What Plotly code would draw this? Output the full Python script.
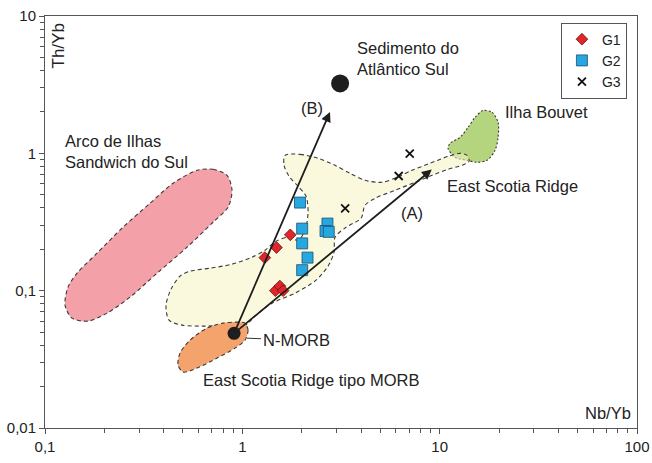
import numpy as np
import plotly.graph_objects as go

# ---- sample data (Nb/Yb, Th/Yb) ----
g1_nb = [1.75, 1.49, 1.30, 1.47, 1.55, 1.61]
g1_th = [0.255, 0.206, 0.174, 0.100, 0.108, 0.100]
g2_nb = [1.96, 2.01, 2.01, 2.14, 2.01, 2.70, 2.64, 2.74]
g2_th = [0.438, 0.283, 0.221, 0.174, 0.141, 0.308, 0.272, 0.268]
g3_nb = [3.32, 6.20, 7.05]
g3_th = [0.398, 0.684, 0.995]

# reference compositions
nmorb = (0.908, 0.0489)
sediment = (3.13, 3.23)
arrow_b_end = (2.78, 2.00)
arrow_a_end = (9.12, 0.761)

# ---- field outlines, log10(Nb/Yb), log10(Th/Yb) ----
sandwich_lx = [-0.2296, -0.1485, -0.0775, -0.0522, -0.0725, -0.1485, -0.2803, -0.4323, -0.5692,
               -0.6858, -0.7821, -0.8632, -0.8986, -0.8834, -0.8378, -0.7364, -0.6047, -0.4678, -0.3512]
sandwich_ly = [-0.1236, -0.1164, -0.16, -0.2691, -0.3927, -0.5018, -0.6836, -0.8727, -1.0473,
               -1.1636, -1.2218, -1.2, -1.1055, -0.9745, -0.8727, -0.7273, -0.5382, -0.3636, -0.2182]

esr_lx = [0.2164, 0.2924, 0.3837, 0.4698, 0.5459, 0.6219, 0.7081, 0.7841, 0.8601, 0.9513, 1.0426,
          1.1034, 1.1389, 1.149, 1.1135, 1.0426, 0.9615, 0.8753, 0.7739, 0.6726, 0.6219, 0.6016,
          0.5256, 0.4698, 0.4648, 0.4344, 0.3735, 0.2671, 0.1505, 0.0694, 0.0086, -0.0725, -0.1891,
          -0.3056, -0.3715, -0.3867, -0.3614, -0.3158, -0.2651, -0.1637, -0.0522, 0.0492, 0.115,
          0.1708, 0.2316, 0.2823, 0.3178, 0.333, 0.3229, 0.2823, 0.2367, 0.2113]
esr_ly = [-0.0145, -0.0073, -0.0364, -0.0873, -0.1455, -0.1964, -0.2109, -0.1745, -0.1236, -0.0727,
          -0.0218, 0.0, -0.0145, -0.0582, -0.0873, -0.1164, -0.16, -0.2109, -0.2691, -0.3273, -0.3782,
          -0.4727, -0.5382, -0.6109, -0.72, -0.8218, -0.9236, -1.0182, -1.0909, -1.1782, -1.2582,
          -1.2509, -1.2582, -1.2509, -1.2145, -1.1055, -0.9891, -0.8945, -0.8582, -0.8364, -0.8073,
          -0.7564, -0.7055, -0.64, -0.6109, -0.6327, -0.56, -0.4291, -0.3127, -0.24, -0.1673, -0.0873]

bouvet_lx = [1.22, 1.2656, 1.296, 1.296, 1.2808, 1.2402, 1.1895, 1.1389, 1.078, 1.0426, 1.0527,
             1.1034, 1.1439, 1.1794]
bouvet_ly = [0.3127, 0.2982, 0.2255, 0.1164, 0.0218, -0.0509, -0.0655, -0.0509, -0.0291, 0.0364,
             0.0727, 0.1164, 0.1891, 0.2618]

morb_lx = [0.0137, 0.0289, 0.0137, -0.037, -0.1282, -0.2296, -0.3006, -0.3259, -0.3158, -0.2651,
           -0.1789, -0.0978, -0.0269]
morb_ly = [-1.2364, -1.2873, -1.36, -1.4182, -1.4909, -1.5636, -1.5927, -1.5418, -1.4545, -1.36,
           -1.2727, -1.2364, -1.2291]

# tick labels
x_ticks = [0.1, 1, 10, 100]
x_ticktext = ["0,1", "1", "10", "100"]
y_ticks = [0.01, 0.1, 1, 10]
y_ticktext = ["0,01", "0,1", "1", "10"]

FONT = "Liberation Sans, Arial, sans-serif"
OUT = "#3a3a3a"


def closed(lx, ly):
    xs = [10 ** v for v in lx] + [10 ** lx[0]]
    ys = [10 ** v for v in ly] + [10 ** ly[0]]
    return xs, ys


fig = go.Figure()

for lx, ly, fill, dash in [
    (sandwich_lx, sandwich_ly, "#f3a0a8", "4px,3px"),
    (bouvet_lx, bouvet_ly, "#b4d47d", "2px,2px"),
    (esr_lx, esr_ly, "rgba(246,244,195,0.55)", "4px,3px"),
    (morb_lx, morb_ly, "#f5a36c", "4px,3px"),
]:
    xs, ys = closed(lx, ly)
    fig.add_trace(go.Scatter(x=xs, y=ys, mode="lines", fill="toself", fillcolor=fill,
                             line=dict(color=OUT, width=1.1, dash=dash, shape="spline", smoothing=0.8),
                             showlegend=False, hoverinfo="skip"))

# reference end-members
fig.add_trace(go.Scatter(x=[sediment[0]], y=[sediment[1]], mode="markers",
                         marker=dict(size=18, color="#1e1e1e"), showlegend=False))
fig.add_trace(go.Scatter(x=[nmorb[0]], y=[nmorb[1]], mode="markers",
                         marker=dict(size=13, color="#1e1e1e"), showlegend=False))

# samples
fig.add_trace(go.Scatter(x=g1_nb, y=g1_th, mode="markers", name="G1",
                         marker=dict(symbol="diamond", size=9, color="#e0262b",
                                     line=dict(color="#6a1010", width=0.8))))
fig.add_trace(go.Scatter(x=g2_nb, y=g2_th, mode="markers", name="G2",
                         marker=dict(symbol="square", size=11, color="#27a7e0",
                                     line=dict(color="#1a4f70", width=0.8))))
fig.add_trace(go.Scatter(x=g3_nb, y=g3_th, mode="markers", name="G3",
                         marker=dict(symbol="x-thin", size=8, color="#111",
                                     line=dict(color="#111", width=1.8))))

ann = []
for end in (arrow_b_end, arrow_a_end):
    ann.append(dict(x=np.log10(end[0]), y=np.log10(end[1]), ax=np.log10(nmorb[0]),
                    ay=np.log10(nmorb[1]), xref="x", yref="y", axref="x", ayref="y",
                    text="", showarrow=True, arrowhead=2, arrowsize=1.1, arrowwidth=1.8,
                    arrowcolor="#1e1e1e"))

labels = [
    ("Sedimento do<br>Atlântico Sul", 3.73, 4.87, "left"),
    ("(B)", 2.256, 2.125, "center"),
    ("Ilha Bouvet", 20.96, 1.987, "left"),
    ("East Scotia Ridge", 10.65, 0.575, "left"),
    ("(A)", 7.25, 0.366, "center"),
    ("Arco de Ilhas<br>Sandwich do Sul", 0.1234, 1.025, "left"),
    ("East Scotia Ridge tipo MORB", 0.6175, 0.02234, "left"),
    ("Nb/Yb", 95.5, 0.01285, "right"),
]
for txt, x, y, xa in labels:
    ann.append(dict(x=np.log10(x), y=np.log10(y), xref="x", yref="y", text=txt, showarrow=False,
                    xanchor=xa, yanchor="middle", align="left",
                    font=dict(family=FONT, size=16.5, color="#222")))
ann.append(dict(x=np.log10(0.1164), y=np.log10(6.0), xref="x", yref="y", text="Th/Yb",
                showarrow=False, textangle=-90, font=dict(family=FONT, size=17, color="#222")))
ann.append(dict(x=np.log10(1.056), y=np.log10(0.0451), xref="x", yref="y", text="N-MORB",
                showarrow=True, arrowhead=0, arrowwidth=1, arrowcolor="#333", ax=49, ay=2,
                standoff=0, font=dict(family=FONT, size=16.5, color="#222")))

minor_x = [m * 10.0 ** d for d in (-1, 0, 1) for m in range(2, 10)]
minor_y = [m * 10.0 ** d for d in (-2, -1, 0) for m in range(2, 10)]

fig.update_layout(
    width=652, height=463,
    margin=dict(l=45, r=15, t=16, b=35),
    paper_bgcolor="white", plot_bgcolor="white",
    font=dict(family=FONT, size=15, color="#222"),
    annotations=ann,
    legend=dict(x=0.983, y=0.984, xanchor="right", yanchor="top", bgcolor="white",
                bordercolor="#555", borderwidth=1, font=dict(size=14, family=FONT),
                itemwidth=30),
    xaxis=dict(type="log", range=[-1, 2], tickvals=x_ticks, ticktext=x_ticktext,
               automargin=False,
               showgrid=False, zeroline=False, showline=True, linecolor="#555", linewidth=1,
               mirror=True, ticks="outside", ticklen=5, tickcolor="#555",
               tickfont=dict(size=15, family=FONT, color="#222"),
               minor=dict(tickvals=minor_x, ticks="outside", ticklen=4, tickcolor="#555",
                          showgrid=False)),
    yaxis=dict(type="log", range=[-2, 1], tickvals=y_ticks, ticktext=y_ticktext,
               automargin=False,
               showgrid=False, zeroline=False, showline=True, linecolor="#555", linewidth=1,
               mirror=True, ticks="outside", ticklen=5, tickcolor="#555",
               tickfont=dict(size=15, family=FONT, color="#222"),
               minor=dict(tickvals=minor_y, ticks="outside", ticklen=4, tickcolor="#555",
                          showgrid=False)),
)

fig.write_html("out.html", config={"displayModeBar": False},
               post_script="document.body.style.margin='0px';")
